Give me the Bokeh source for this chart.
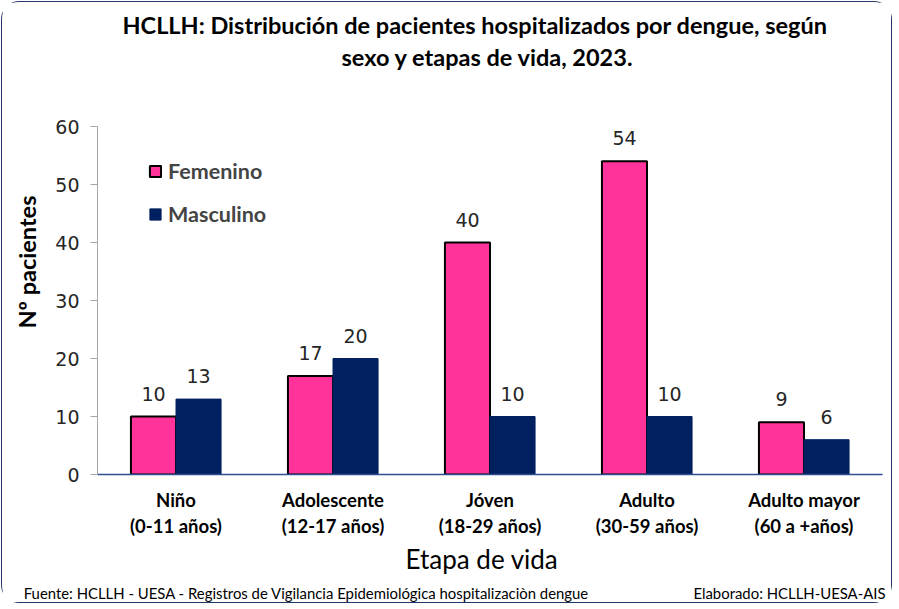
import math
from bokeh.plotting import figure
from bokeh.models import (ColumnDataSource, Range1d, FixedTicker, Legend,
                          LegendItem, LabelSet, Title, LinearAxis)
from bokeh.core.properties import value
from bokeh.transform import dodge
from bokeh.embed import file_html
from bokeh.resources import INLINE

# ---- data ----
stages = ["Niño\n(0-11 años)", "Adolescente\n(12-17 años)", "Jóven\n(18-29 años)",
          "Adulto\n(30-59 años)", "Adulto mayor\n(60 a +años)"]
femenino = [10, 17, 40, 54, 9]
masculino = [13, 20, 10, 10, 6]
y_ticks = [0, 10, 20, 30, 40, 50, 60]

title_1 = "HCLLH: Distribución de pacientes hospitalizados por dengue, según"
title_2 = "sexo y etapas de vida, 2023."
y_title = "Nº pacientes"
x_title = "Etapa de vida"
source_txt = "Fuente: HCLLH - UESA - Registros de Vigilancia Epidemiológica hospitalizaciòn dengue"
credit_txt = "Elaborado: HCLLH-UESA-AIS"

PINK = "#FF3399"
NAVY = "#002060"
FONT = "Lato"
NUMF = "DejaVu Sans"

idx = list(range(len(stages)))
src = ColumnDataSource(dict(x=idx, fem=femenino, mas=masculino,
                            fem_s=[str(v) for v in femenino],
                            mas_s=[str(v) for v in masculino]))

p = figure(width=891, height=602, output_backend="svg", toolbar_location=None,
           x_range=Range1d(-0.5, len(stages) - 0.5), y_range=Range1d(0, 60),
           min_border_left=94, min_border_right=11, min_border_top=124,
           min_border_bottom=130)
p.styles = {"border": "1.5px solid #22386B", "border-radius": "18px", "margin": "1px"}
p.outline_line_color = None
p.xgrid.grid_line_color = None
p.ygrid.grid_line_color = None

bw = 0.287
off = bw / 2
r_f = p.vbar(x=dodge("x", -off, range=p.x_range), top="fem", width=bw, source=src,
             fill_color=PINK, line_color="black", line_width=2)
r_m = p.vbar(x=dodge("x", off, range=p.x_range), top="mas", width=bw, source=src,
             fill_color=NAVY, line_color=NAVY, line_width=1)

for col, lab, o in [("fem", "fem_s", -off), ("mas", "mas_s", off)]:
    ls = LabelSet(x=dodge("x", o, range=p.x_range), y=col, text=lab, source=src,
                  text_align="center", text_baseline="bottom", y_offset=16,
                  text_font=value(NUMF), text_font_size="19px", text_color="#262626")
    p.add_layout(ls)

# axes
p.xaxis.ticker = FixedTicker(ticks=idx)
p.xaxis.major_label_overrides = {i: s for i, s in enumerate(stages)}
p.xaxis.major_tick_line_color = None
p.xaxis.minor_tick_line_color = None
p.xaxis.axis_line_color = "#2E4D8E"
p.xaxis.axis_line_width = 1.5
p.xaxis.major_label_text_font = FONT
p.xaxis.major_label_text_font_style = "bold"
p.xaxis.major_label_text_font_size = "18.5px"
p.xaxis.major_label_text_color = "black"
p.xaxis.major_label_standoff = 8

p.yaxis.ticker = FixedTicker(ticks=y_ticks)
p.yaxis.minor_tick_line_color = None
p.yaxis.axis_line_color = "#A6A6A6"
p.yaxis.major_tick_line_color = "#A6A6A6"
p.yaxis.major_tick_out = 7
p.yaxis.major_tick_in = 0
p.yaxis.major_label_text_font = NUMF
p.yaxis.major_label_text_font_size = "19px"
p.yaxis.major_label_text_color = "#262626"
p.yaxis.major_label_standoff = 11

# y-axis title (as a side title so it can sit above the frame centre)
p.add_layout(Title(text=y_title, align="left", offset=146, text_font=FONT,
                   text_font_style="bold", text_font_size="23.5px",
                   vertical_align="top",
                   text_color="black", standoff=20), "left")

# x-axis title
p.add_layout(Title(text=x_title, align="left", offset=308, text_font=FONT,
                   text_font_style="normal", text_font_size="26px",
                   text_color="black", standoff=2), "below")

# footer as an extra, line-less axis under the x axis (range in page pixels)
p.extra_x_ranges = {"foot": Range1d(97, 882)}
foot = LinearAxis(x_range_name="foot", ticker=FixedTicker(ticks=[306, 789]),
                  major_label_overrides={306: source_txt, 789: credit_txt},
                  axis_line_color=None, major_tick_line_color=None,
                  minor_tick_line_color=None, major_label_standoff=2,
                  major_label_text_font=FONT, major_label_text_font_size="14.9px",
                  major_label_text_color="black")
p.add_layout(foot, "below")

# legend
legend = Legend(items=[LegendItem(label="Femenino", renderers=[r_f]),
                       LegendItem(label="Masculino", renderers=[r_m])],
                location=(51, 247), padding=0, margin=0, spacing=17,
                glyph_width=14, glyph_height=14, label_height=20,
                label_text_font=FONT, label_text_font_style="bold",
                label_text_font_size="21.5px", label_standoff=6,
                border_line_color=None, background_fill_alpha=0)
p.add_layout(legend)

# titles (inner first: spacer, line 2, line 1)
for t, so, ofs in [(" ", 25, 0), (title_2, 2, 244), (title_1, 2, 25)]:
    p.add_layout(Title(text=t, align="left", offset=ofs, text_font=FONT,
                       text_font_style="bold", text_font_size="23.5px",
                       text_color="black", standoff=so), "above")

open("out.html", "w").write(file_html(p, INLINE))
